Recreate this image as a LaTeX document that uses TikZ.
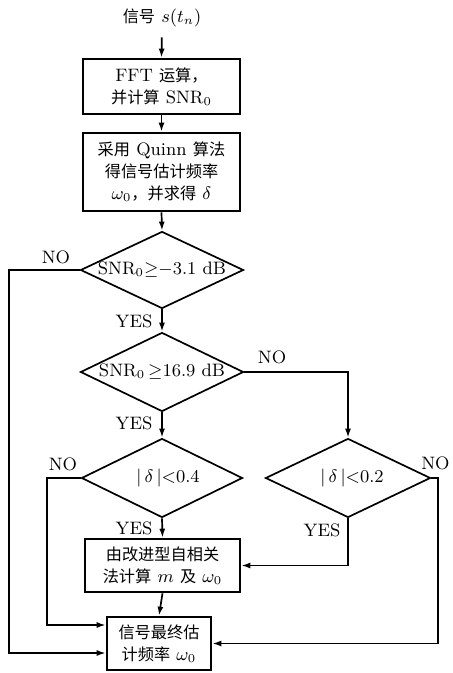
\documentclass[tikz,border=0pt]{standalone}
\usepackage{fontspec}
\newfontfamily\cjkfont[Scale=0.9]{Noto Sans CJK SC}
\usetikzlibrary{shapes.geometric,arrows.meta}
\newcommand\zh[1]{{\cjkfont #1}}
\begin{document}
\begin{tikzpicture}[x=0.5pt,y=-0.5pt,
  font=\fontsize{9}{11}\selectfont,
  box/.style={draw,line width=1.3pt,inner sep=0,align=center},
  dia/.style={draw,diamond,line width=0.85pt,inner sep=0},
  arr/.style={line width=0.85pt,-{Latex[length=4.5pt,width=3pt]}},
  lab/.style={inner sep=0}]
\useasboundingbox (0,0) rectangle (452,673);
\node[lab] (title) at (162,18) {\zh{信号} $s(t_n)$};
\node[box,minimum width=78.5pt,minimum height=27.5pt] (b1) at (161.5,86.5) {FFT \zh{运算，}\\\zh{并计算} SNR$_0$};
\node[box,minimum width=78.5pt,minimum height=39pt] (b2) at (161.5,172) {\zh{采用} Quinn \zh{算法}\\\zh{得信号估计频率}\\$\omega_0$\zh{，并求得} $\delta$};
\node[dia,minimum width=81.5pt,minimum height=38.5pt] (d1) at (162,270) {\makebox[0pt]{SNR$_0{\geq}{-}3.1$ dB}};
\node[dia,minimum width=81.5pt,minimum height=39.5pt] (d2) at (162,372) {\makebox[0pt]{SNR$_0\,{\geq}16.9$ dB}};
\node[dia,minimum width=80.5pt,minimum height=39.5pt] (d3) at (162,478) {\makebox[0pt]{\hspace*{6pt}$|\,\delta\,|{<}0.4$}};
\node[dia,minimum width=82.5pt,minimum height=39.5pt] (d4) at (348,478) {\makebox[0pt]{\hspace*{4pt}$|\,\delta\,|{<}0.2$}};
\node[box,minimum width=77.5pt,minimum height=26.5pt] (b3) at (162.5,565.5) {\zh{由改进型自相关}\\\zh{法计算} $m$ \zh{及} $\omega_0$};
\node[box,minimum width=52pt,minimum height=26.5pt] (b4) at (159,643.5) {\zh{信号最终估}\\\zh{计频率} $\omega_0$};
% labels
\node[lab] (no1) at (56,257) {NO};
\node[lab] (yes1) at (134,321) {YES};
\node[lab] (no2) at (272,357) {NO};
\node[lab] (yes2) at (134,423) {YES};
\node[lab] (no3) at (63,464) {NO};
\node[lab] (yes3) at (134,528) {YES};
\node[lab] (yes4) at (322,530) {YES};
\node[lab,anchor=east] (no4) at (450,463) {NO};
% connectors
\draw[arr,shorten <=5pt] (title.south) -- (b1.north);
\draw[arr] (b1.south) -- (b2.north);
\draw[arr] (b2.south) -- (d1.north);
\draw[arr] (d1.south) -- (d2.north);
\draw[arr] (d2.south) -- (d3.north);
\draw[arr] (d3.south) -- (b3.north);
\draw[arr] (b3.south) -- (b4.north);
\draw[arr] (d2.east) -| (d4.north);
\draw[arr] (d4.south) |- (b3.east);
\draw[arr] (d3.west) -- (47,478) |- ([yshift=9.25pt]b4.west);
\draw[arr] (d1.west) -- (9,270) |- ([yshift=-4.75pt]b4.west);
\draw[arr] (d4.east) -- (438,478) |- (b4.east);
\end{tikzpicture}
\end{document}
